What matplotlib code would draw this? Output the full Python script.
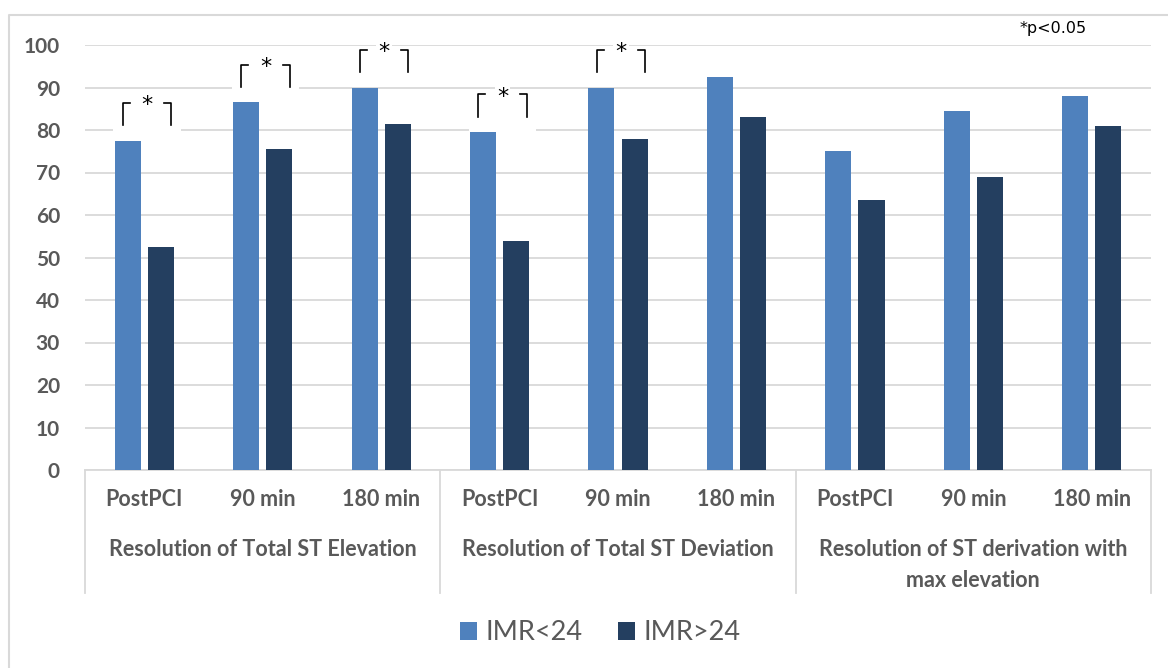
import matplotlib.pyplot as plt
import matplotlib.transforms as mtransforms
from matplotlib.lines import Line2D
from matplotlib.patches import Patch, Rectangle

# ---- data ----
time_points = ['PostPCI', '90 min', '180 min'] * 3
groups = ['Resolution of Total ST Elevation',
          'Resolution of Total ST Deviation',
          'Resolution of ST derivation with\nmax elevation']
imr_low = [77.5, 86.5, 90.0, 79.5, 90.0, 92.5, 75.0, 84.5, 88.0]    # IMR<24
imr_high = [52.5, 75.5, 81.5, 54.0, 78.0, 83.0, 63.5, 69.0, 81.0]   # IMR>24
significant = [0, 1, 2, 3, 4]   # category indices with p<0.05

LIGHT = '#4F81BD'
DARK = '#243F60'
GRID = '#D9D9D9'
TEXT = '#595959'
FONT = 'Lato'

fig = plt.figure(figsize=(11.68, 6.68), dpi=100)
ax = fig.add_axes([85 / 1168, 1 - 470 / 668, (1151 - 85) / 1168, (470 - 45) / 668])

x = list(range(len(time_points)))
off, w = 0.14, 0.22
ax.bar([i - off for i in x], imr_low, width=w, color=LIGHT, zorder=3)
ax.bar([i + off for i in x], imr_high, width=w, color=DARK, zorder=3)

ax.set_xlim(-0.5, len(x) - 0.5)
ax.set_ylim(0, 100)
ax.set_yticks(range(0, 101, 10))
ax.yaxis.grid(True, color=GRID, linewidth=1.3, zorder=0)
ax.set_axisbelow(True)
for s in ['top', 'right', 'left']:
    ax.spines[s].set_visible(False)
ax.spines['bottom'].set_color(GRID)
ax.spines['bottom'].set_linewidth(1.3)

ax.set_xticks(x)
ax.set_xticklabels(time_points)
ax.tick_params(axis='both', length=0, labelcolor=TEXT)
ax.tick_params(axis='x', pad=14, labelsize=15.5)
ax.tick_params(axis='y', pad=18, labelsize=15)
for lab in ax.get_xticklabels() + ax.get_yticklabels():
    lab.set_family(FONT)
    lab.set_fontweight('bold')

# group labels and separators under the axis
blend = mtransforms.blended_transform_factory(ax.transData, ax.transAxes)
for g, name in enumerate(groups):
    ax.text(3 * g + 1, -0.162, name, transform=blend, ha='center', va='top',
            fontsize=15.5, fontweight='bold', color=TEXT, family=FONT,
            linespacing=1.6)
for sx in [-0.5, 2.5, 5.5, 8.5]:
    ax.plot([sx, sx], [0, -0.289], transform=blend, color=GRID,
            linewidth=1.3, clip_on=False)

# significance brackets
for i in significant:
    top = imr_low[i] + 8.9
    bot = imr_low[i] + 3.6
    lx, rx = i - 0.18, i + 0.23
    ax.add_patch(Rectangle((i - 0.26, imr_low[i] + 0.2), 0.57, 8.9 - 0.2,
                           facecolor='white', edgecolor='none', zorder=1))
    ax.plot([lx, lx, lx + 0.06], [bot, top, top], color='black', lw=1.2, zorder=4)
    ax.plot([rx - 0.06, rx, rx], [top, top, bot], color='black', lw=1.2, zorder=4)
    ax.text((lx + rx) / 2, top - 0.6, '*', ha='center', va='center',
            fontsize=16, color='black', zorder=4,
            bbox=dict(facecolor='white', edgecolor='none', pad=1.5))

# legend
handles = [Patch(facecolor=LIGHT), Patch(facecolor=DARK)]
fig.legend(handles, ['IMR<24', 'IMR>24'], loc='center',
           bbox_to_anchor=(600 / 1168, 1 - 633 / 668), ncol=2, frameon=False,
           prop={'family': FONT, 'size': 19.5}, labelcolor=TEXT,
           handlelength=0.65, handleheight=0.65, handletextpad=0.3,
           columnspacing=1.3)

fig.text(1053 / 1168, 1 - 28 / 668, '*p<0.05', ha='center', va='center',
         fontsize=11.5, color='black')

# chart area border (left and top edges)
bx, by = 9 / 1168, 1 - 15 / 668
fig.add_artist(Line2D([bx, bx, 1], [0, by, by], transform=fig.transFigure,
                      color=GRID, linewidth=1.5))

fig.savefig('out.png', dpi=100)
